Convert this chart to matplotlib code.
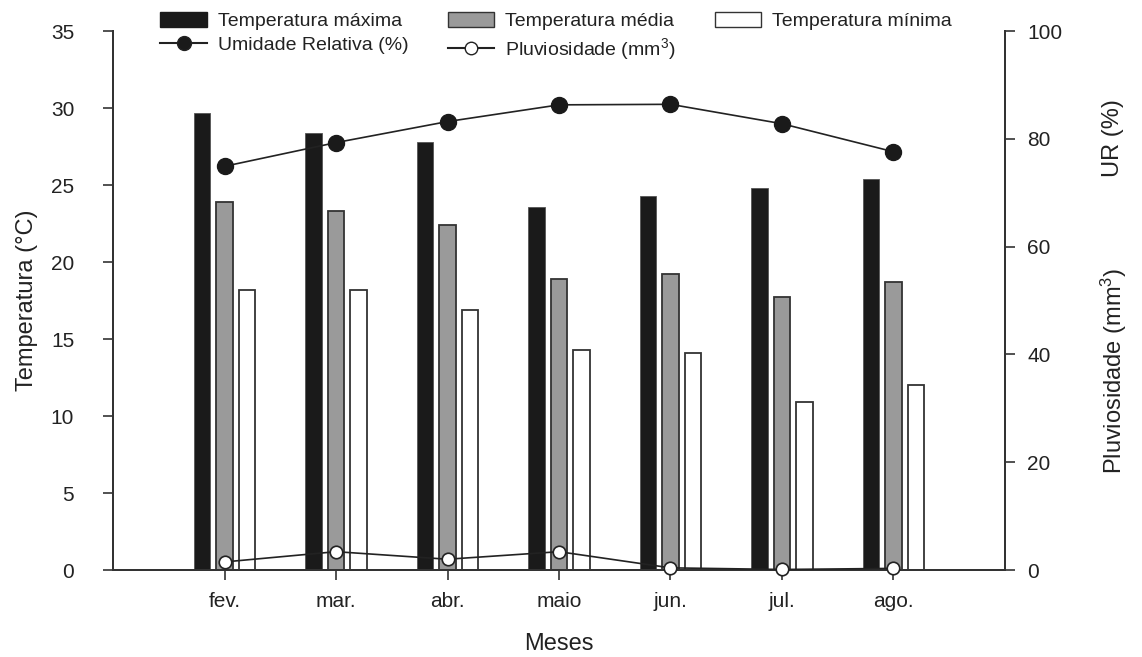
import numpy as np
import matplotlib
matplotlib.use('Agg')
import matplotlib.pyplot as plt
from matplotlib.patches import Patch
from matplotlib.lines import Line2D

plt.rcParams['font.family'] = ['Liberation Sans', 'DejaVu Sans']
plt.rcParams['mathtext.fontset'] = 'custom'
plt.rcParams['mathtext.rm'] = 'Liberation Sans'
plt.rcParams['mathtext.it'] = 'Liberation Sans:italic'

# dados mensais
meses = ['fev.', 'mar.', 'abr.', 'maio', 'jun.', 'jul.', 'ago.']
temp_max = [29.7, 28.4, 27.8, 23.6, 24.3, 24.8, 25.4]
temp_med = [23.9, 23.3, 22.4, 18.9, 19.2, 17.7, 18.7]
temp_min = [18.2, 18.2, 16.9, 14.3, 14.1, 10.9, 12.0]
umidade = [74.9, 79.3, 83.2, 86.3, 86.4, 82.8, 77.6]
pluviosidade = [1.5, 3.4, 2.0, 3.4, 0.4, 0.1, 0.3]

cor_txt = '#222222'
cor_eixo = '#333333'

fig = plt.figure(figsize=(11.42, 6.57), dpi=100)
ax = fig.add_axes([0.099, 0.1324, 0.781, 0.8204])
ax2 = ax.twinx()

x = np.arange(len(meses))
larg = 0.148
desl = 0.2

ax.bar(x - desl, temp_max, larg, color='#1a1a1a', edgecolor='#555555', linewidth=0.6, zorder=2)
ax.bar(x, temp_med, larg, color='#9a9a9a', edgecolor='#333333', linewidth=1.3, zorder=2)
ax.bar(x + desl, temp_min, larg, color='white', edgecolor='#333333', linewidth=1.3, zorder=2)

ax2.plot(x, umidade, color='#222222', linewidth=1.2, marker='o', markersize=11.5,
         markerfacecolor='#1a1a1a', markeredgecolor='#1a1a1a', zorder=3)
ax2.plot(x, pluviosidade, color='#222222', linewidth=1.2, marker='o', markersize=9,
         markerfacecolor='white', markeredgecolor='#222222', markeredgewidth=1.2,
         zorder=3, clip_on=False)

ax.set_xlim(-1, 7)
ax.set_ylim(0, 35)
ax2.set_ylim(0, 100)
ax.set_yticks(np.arange(0, 36, 5))
ax2.set_yticks(np.arange(0, 101, 20))
ax.set_xticks(x)
ax.set_xticklabels(meses)

for a in (ax, ax2):
    a.spines['top'].set_visible(False)
    for s in ('left', 'right', 'bottom'):
        a.spines[s].set_color(cor_eixo)
        a.spines[s].set_linewidth(1.4)
    a.tick_params(direction='out', length=7, width=1.2, color=cor_eixo,
                  labelsize=15, labelcolor=cor_txt, pad=9)
ax.tick_params(axis='y', pad=21)

ax.set_xlabel('Meses', fontsize=17, color=cor_txt, labelpad=16)
ax.set_ylabel('Temperatura (°C)', fontsize=17, color=cor_txt, labelpad=9)

# rótulos do eixo direito
fig.text(0.975, 0.79, 'UR (%)', rotation=90, fontsize=17, color=cor_txt,
         ha='center', va='center')
fig.text(0.975, 0.435, 'Pluviosidade (mm$^3$)', rotation=90, fontsize=17,
         color=cor_txt, ha='center', va='center')

# legenda em duas linhas
h_max = Patch(facecolor='#1a1a1a', edgecolor='#1a1a1a', label='Temperatura máxima')
h_med = Patch(facecolor='#9a9a9a', edgecolor='#333333', label='Temperatura média')
h_min = Patch(facecolor='white', edgecolor='#333333', label='Temperatura mínima')
h_ur = Line2D([], [], color='#222222', marker='o', markersize=10,
              markerfacecolor='#1a1a1a', label='Umidade Relativa (%)')
h_pl = Line2D([], [], color='#222222', marker='o', markersize=9,
              markerfacecolor='white', label='Pluviosidade (mm$^3$)')
leg = fig.legend(handles=[h_max, h_ur, h_med, h_pl, h_min], ncol=3,
                 loc='upper left', bbox_to_anchor=(0.125, 1.008), frameon=False,
                 fontsize=14, handlelength=2.4, handleheight=0.8,
                 columnspacing=2.0, labelspacing=0.3, handletextpad=0.57)
for t in leg.get_texts():
    t.set_color(cor_txt)

fig.savefig('out.png', dpi=100)
